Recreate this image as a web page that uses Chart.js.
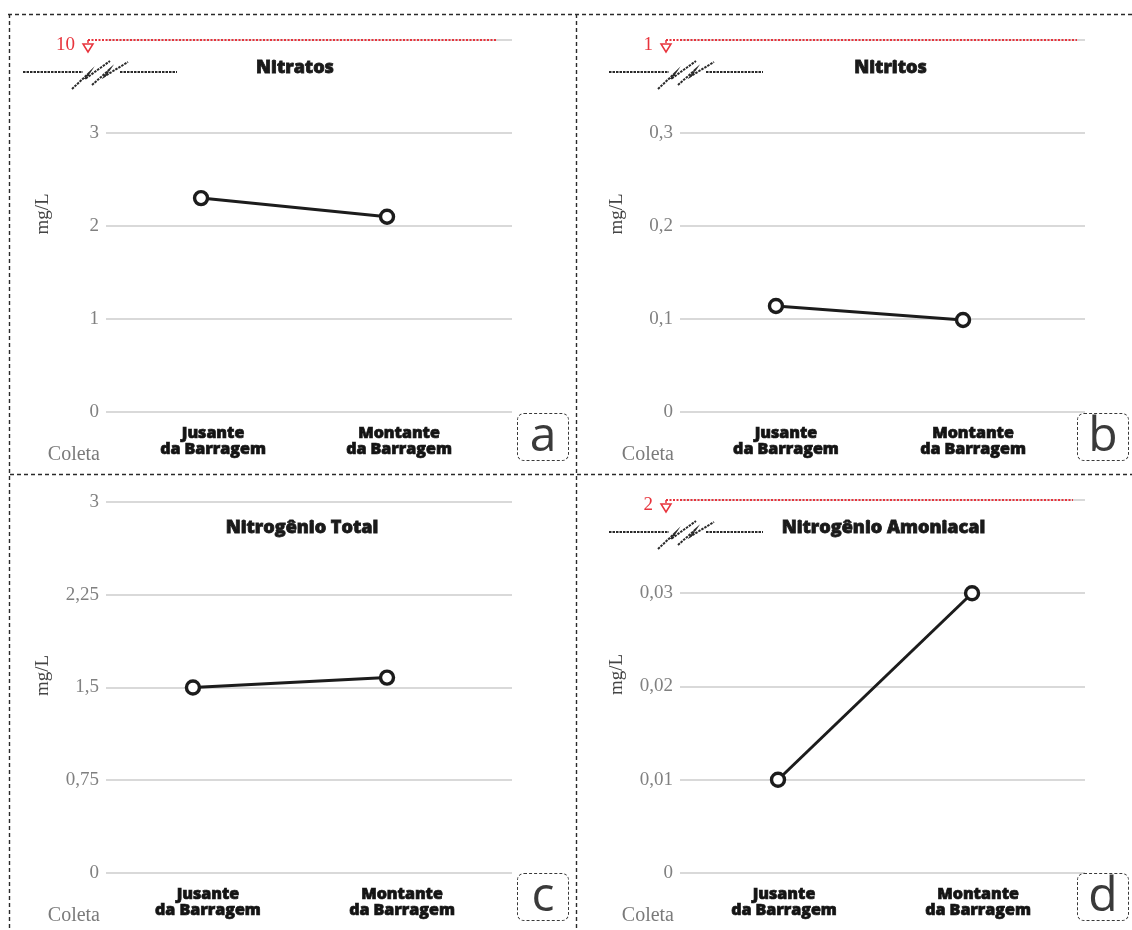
<!DOCTYPE html>
<html>
<head>
<meta charset="utf-8">
<script src="https://cdn.jsdelivr.net/npm/chart.js@4/dist/chart.umd.min.js"></script>
<style>
  html, body { margin: 0; padding: 0; background: #fff; }
  #page { position: relative; width: 1132px; height: 930px; overflow: hidden; background: #fff; }
  canvas.panel { position: absolute; }
  svg.frame { position: absolute; left: 0; top: 0; pointer-events: none; }
  .tag {
    position: absolute; width: 50px; height: 46px;
    border: 1.6px dashed #3a3a3a; border-radius: 7px;
    font: 48px "Open Sans", "Noto Sans", sans-serif; color: #3a3a3a;
    display: flex; align-items: center; justify-content: center;
    line-height: 1; box-sizing: content-box;
  }
  .tag span { position: relative; top: -4px; }
</style>
</head>
<body>
<div id="page">
  <canvas id="cA" class="panel" style="left:10px;top:14px"></canvas>
  <canvas id="cB" class="panel" style="left:576px;top:14px"></canvas>
  <canvas id="cC" class="panel" style="left:10px;top:474px"></canvas>
  <canvas id="cD" class="panel" style="left:576px;top:474px"></canvas>

  <svg class="frame" width="1132" height="930">
    <g stroke="#2a2a2a" stroke-width="1.4" stroke-dasharray="4 3" fill="none">
      <line x1="8" y1="14.5" x2="1132" y2="14.5"/>
      <line x1="9.5" y1="14" x2="9.5" y2="930"/>
      <line x1="576.5" y1="14" x2="576.5" y2="930"/>
      <line x1="10" y1="474.5" x2="1132" y2="474.5"/>
    </g>
  </svg>

  <div class="tag" style="left:517px;top:413px"><span>a</span></div>
  <div class="tag" style="left:1077px;top:413px"><span>b</span></div>
  <div class="tag" style="left:517px;top:873px"><span>c</span></div>
  <div class="tag" style="left:1077px;top:873px"><span>d</span></div>
</div>

<script>
// Sampling sites (x categories)
const categories = [['Jusante', 'da Barragem'], ['Montante', 'da Barragem']];

// Concentrations in mg/L, one value per site
const nitratos = [2.3, 2.1];
const nitritos = [0.114, 0.099];
const nitrogenioTotal = [1.5, 1.58];
const nitrogenioAmoniacal = [0.01, 0.03];

// Y axis ticks of each panel
const ticksNitratos = [0, 1, 2, 3];
const ticksNitritos = [0, 0.1, 0.2, 0.3];
const ticksNitrogenioTotal = [0, 0.75, 1.5, 2.25, 3];
const ticksNitrogenioAmoniacal = [0, 0.01, 0.02, 0.03];

// Legal limits shown above the axis break (mg/L)
const limiteNitratos = 10;
const limiteNitritos = 1;
const limiteAmoniacal = 2;

const RED = '#e8333c';
const GRID = '#d9d9d9';
const TICK_FONT = '"Liberation Serif", "DejaVu Serif", serif';
const BOLD_FONT = '"Open Sans", Lato, sans-serif';

function fmt(v) {
  return String(Number(v.toFixed(4))).replace('.', ',');
}

// Extra drawing: limit line with marker, axis break, title, axis captions
const panelDecor = {
  id: 'panelDecor',
  afterDraw(chart, args, o) {
    const ctx = chart.ctx;
    const a = chart.chartArea;
    const yScale = chart.scales.y;
    ctx.save();

    // axis captions
    ctx.fillStyle = '#444';
    ctx.font = '19px ' + TICK_FONT;
    ctx.textAlign = 'center';
    ctx.textBaseline = 'middle';
    ctx.save();
    ctx.translate(a.left - 63, (a.top + a.bottom) / 2 - 12);
    ctx.rotate(-Math.PI / 2);
    ctx.fillText('mg/L', 0, 0);
    ctx.restore();

    ctx.fillStyle = '#7a7a7a';
    ctx.font = '20px ' + TICK_FONT;
    ctx.textAlign = 'right';
    ctx.fillText('Coleta', a.left - 6, a.bottom + 43);

    // title
    ctx.fillStyle = '#1a1a1a';
    ctx.strokeStyle = '#1a1a1a';
    ctx.lineWidth = 0.8;
    ctx.font = '800 18px ' + BOLD_FONT;
    ctx.textAlign = 'center';
    const tX = (a.left + a.right) / 2 + o.titleDx, tY = a.top + o.titleDy;
    ctx.fillText(o.title, tX, tY);
    ctx.strokeText(o.title, tX, tY);

    if (o.limit !== undefined) {
      const yTop = yScale.getPixelForValue(yScale.max);
      const tx = a.left + o.triDx;

      // dotted limit line
      ctx.strokeStyle = RED;
      ctx.lineWidth = 2;
      ctx.setLineDash([2, 1.5]);
      ctx.beginPath();
      ctx.moveTo(tx, yTop);
      ctx.lineTo(a.right - o.redEnd, yTop);
      ctx.stroke();
      ctx.setLineDash([]);

      // water-level marker
      ctx.lineWidth = 1.5;
      ctx.beginPath();
      ctx.moveTo(tx, yTop);
      ctx.lineTo(tx, yTop + 3);
      ctx.moveTo(tx - 5, yTop + 4);
      ctx.lineTo(tx + 5, yTop + 4);
      ctx.lineTo(tx, yTop + 12);
      ctx.closePath();
      ctx.stroke();

      ctx.fillStyle = RED;
      ctx.font = '19px ' + TICK_FONT;
      ctx.textAlign = 'right';
      ctx.textBaseline = 'middle';
      ctx.fillText(fmt(o.limit), tx - 13, yTop + 5);

      // axis break symbol
      const bx = a.left + o.breakX;
      const by = yTop + 21;
      ctx.strokeStyle = '#2a2a2a';
      ctx.lineWidth = 2;
      ctx.setLineDash([2.5, 1]);
      ctx.beginPath();
      ctx.moveTo(bx - 49, by + 11);
      ctx.lineTo(bx + 11, by + 11);
      ctx.moveTo(bx + 48, by + 11);
      ctx.lineTo(bx + 105, by + 11);
      const bolts = [
        [[0, 28], [17, 12], [13, 18], [38, 0]],
        [[20, 24], [37, 9], [33, 15], [56, 1]]
      ];
      bolts.forEach(b => {
        ctx.moveTo(bx + b[0][0], by + b[0][1]);
        for (let i = 1; i < b.length; i++) ctx.lineTo(bx + b[i][0], by + b[i][1]);
      });
      ctx.stroke();
      ctx.setLineDash([]);
    }
    ctx.restore();
  }
};

function makePanel(p) {
  const step = p.ticks[1] - p.ticks[0];
  const last = p.ticks[p.ticks.length - 1];
  const yMax = p.limit !== undefined ? last + step : last;
  const tickValues = p.limit !== undefined ? p.ticks.concat([yMax]) : p.ticks.slice();

  const canvas = document.getElementById(p.id);
  canvas.width = p.w; canvas.height = p.h;
  canvas.style.width = p.w + 'px'; canvas.style.height = p.h + 'px';

  return new Chart(canvas, {
    type: 'line',
    data: {
      datasets: [{
        data: p.values.map((v, i) => ({ x: i, y: v })),
        borderColor: '#1c1c1c',
        borderWidth: 3,
        pointRadius: 6.5,
        pointBorderWidth: 3.4,
        pointBackgroundColor: '#ffffff',
        pointBorderColor: '#1c1c1c',
        tension: 0,
        clip: false
      }]
    },
    options: {
      responsive: false,
      animation: false,
      devicePixelRatio: 1,
      layout: { padding: { left: 0, top: p.padTop, right: p.padRight, bottom: 0 } },
      plugins: {
        legend: { display: false },
        tooltip: { enabled: false },
        panelDecor: {
          title: p.title, titleDx: p.titleDx, titleDy: p.titleDy,
          limit: p.limit, triDx: p.triDx, redEnd: p.redEnd, breakX: p.breakX
        }
      },
      scales: {
        x: {
          type: 'linear',
          min: p.xMin, max: p.xMax,
          afterBuildTicks: s => { s.ticks = categories.map((c, i) => ({ value: i })); },
          afterFit: s => { s.height = p.xHeight; },
          grid: { display: false, drawTicks: false },
          border: { display: false },
          ticks: {
            autoSkip: false,
            maxRotation: 0,
            padding: 13,
            labelOffset: p.labelOffset,
            color: '#141414',
            textStrokeColor: '#141414',
            textStrokeWidth: 0.7,
            font: { family: BOLD_FONT, size: 16, weight: '800', lineHeight: 1.02 },
            callback: v => categories[v]
          }
        },
        y: {
          min: 0, max: yMax,
          afterBuildTicks: s => { s.ticks = tickValues.map(v => ({ value: v })); },
          afterFit: s => { s.width = p.yWidth; },
          grid: { color: GRID, lineWidth: 2, drawTicks: false },
          border: { display: false },
          ticks: {
            padding: 7,
            color: '#808080',
            font: { family: TICK_FONT, size: 19 },
            callback: v => (p.limit !== undefined && Math.abs(v - yMax) < 1e-9) ? '' : fmt(v)
          }
        }
      }
    },
    plugins: [panelDecor]
  });
}

makePanel({
  id: 'cA', w: 566, h: 460, title: 'Nitratos', values: nitratos, ticks: ticksNitratos,
  limit: limiteNitratos, xMin: -0.511, xMax: 1.672, padTop: 26, padRight: 64,
  yWidth: 96, xHeight: 62, labelOffset: 12, titleDx: -14, titleDy: 28,
  triDx: -18, redEnd: 16, breakX: -34
});
makePanel({
  id: 'cB', w: 556, h: 460, title: 'Nitritos', values: nitritos, ticks: ticksNitritos,
  limit: limiteNitritos, xMin: -0.513, xMax: 1.652, padTop: 26, padRight: 47,
  yWidth: 104, xHeight: 62, labelOffset: 10, titleDx: 8, titleDy: 28,
  triDx: -14, redEnd: 8, breakX: -22
});
makePanel({
  id: 'cC', w: 566, h: 456, title: 'Nitrogênio Total', values: nitrogenioTotal, ticks: ticksNitrogenioTotal,
  xMin: -0.448, xMax: 1.644, padTop: 28, padRight: 64,
  yWidth: 96, xHeight: 57, labelOffset: 15, titleDx: -7, titleDy: 26
});
makePanel({
  id: 'cD', w: 556, h: 456, title: 'Nitrogênio Amoniacal', values: nitrogenioAmoniacal, ticks: ticksNitrogenioAmoniacal,
  limit: limiteAmoniacal, xMin: -0.505, xMax: 1.582, padTop: 26, padRight: 47,
  yWidth: 104, xHeight: 57, labelOffset: 6, titleDx: 1, titleDy: 28,
  triDx: -14, redEnd: 12, breakX: -22
});
</script>
</body>
</html>
